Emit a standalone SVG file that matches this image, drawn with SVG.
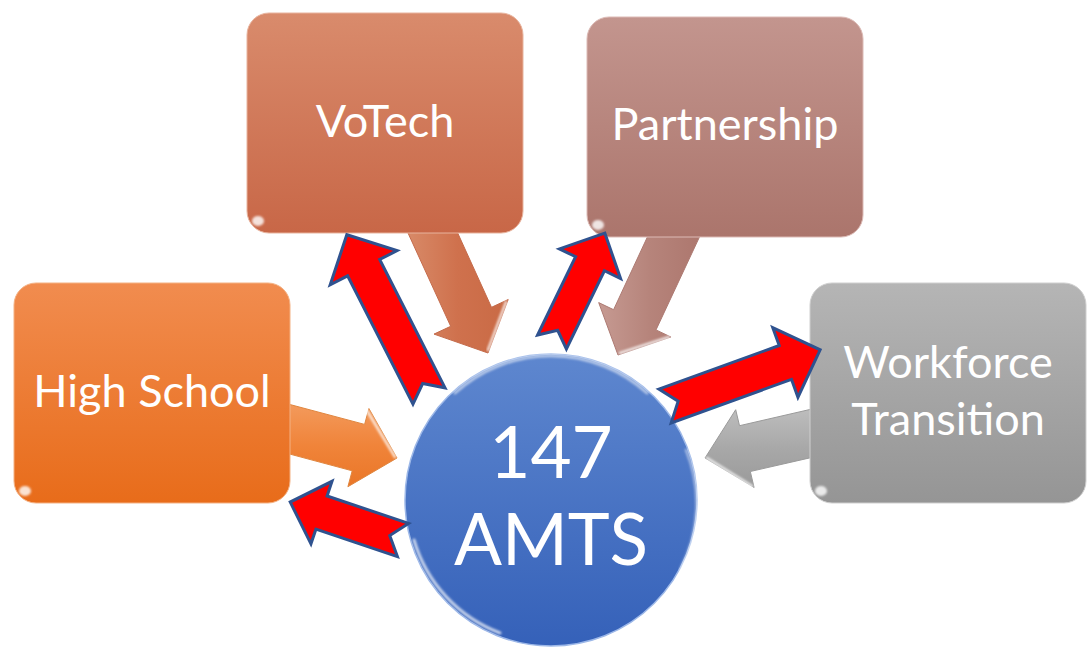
<svg xmlns="http://www.w3.org/2000/svg" width="1089" height="648" viewBox="0 0 1089 648">
<defs>
<style>
.lbl{font-family:Lato,"Open Sans","Liberation Sans",sans-serif;fill:#ffffff;text-anchor:middle;font-size:45px}
.big{font-size:71px}
.red{fill:#ff0000;stroke:#2f528f;stroke-width:3;stroke-linejoin:miter}
.hl{fill:none;stroke:#ffffff;stroke-linecap:round;filter:url(#soft)}
.box{stroke-width:1}
</style>
<filter id="soft" x="-10%" y="-50%" width="120%" height="200%"><feGaussianBlur stdDeviation="1.3"/></filter>
<linearGradient id="gHS" x1="0" y1="0" x2="0" y2="1"><stop offset="0" stop-color="#f18c4f"/><stop offset="1" stop-color="#e86c1a"/></linearGradient>
<linearGradient id="gVT" x1="0" y1="0" x2="0" y2="1"><stop offset="0" stop-color="#d98b6c"/><stop offset="1" stop-color="#c86747"/></linearGradient>
<linearGradient id="gPT" x1="0" y1="0" x2="0" y2="1"><stop offset="0" stop-color="#c3958e"/><stop offset="1" stop-color="#ab756c"/></linearGradient>
<linearGradient id="gWF" x1="0" y1="0" x2="0" y2="1"><stop offset="0" stop-color="#b5b5b5"/><stop offset="1" stop-color="#959595"/></linearGradient>
<linearGradient id="gC" x1="0" y1="0" x2="0" y2="1"><stop offset="0" stop-color="#5e87cf"/><stop offset="1" stop-color="#3561b9"/></linearGradient>
<linearGradient id="aHS" x1="0" y1="0" x2="0" y2="1"><stop offset="0" stop-color="#f39a5c"/><stop offset="0.5" stop-color="#f0843a"/><stop offset="1" stop-color="#ea7627"/></linearGradient>
<linearGradient id="aVT" x1="0" y1="0" x2="1" y2="0"><stop offset="0" stop-color="#d88a68"/><stop offset="0.5" stop-color="#cf714d"/><stop offset="1" stop-color="#c96a45"/></linearGradient>
<linearGradient id="aPT" x1="0" y1="0" x2="1" y2="0"><stop offset="0" stop-color="#c69a92"/><stop offset="0.5" stop-color="#b6847b"/><stop offset="1" stop-color="#ad776e"/></linearGradient>
<linearGradient id="aWF" x1="0" y1="0" x2="0" y2="1"><stop offset="0" stop-color="#bdbdbd"/><stop offset="0.5" stop-color="#a8a8a8"/><stop offset="1" stop-color="#9a9a9a"/></linearGradient>
</defs>
<rect width="1089" height="648" fill="#ffffff"/>

<g id="connectors">
  <polygon points="288,404 364.6,424.4 368.9,408.5 397,458 347.9,486.7 352.2,470.8 288,453.6" fill="url(#aHS)" stroke="#e0863f" stroke-width="1"/>
  <polyline points="366,409 395,457" class="hl" stroke-width="2.5" stroke-opacity="0.8"/>
  <polygon points="407.1,231 456.8,231 491.5,307.3 508.2,299.5 488,353 434,334.1 450.7,326.3" fill="url(#aVT)" stroke="#c46b4b" stroke-width="1"/>
  <polyline points="506,302 488,350" class="hl" stroke-width="2.5" stroke-opacity="0.8"/>
  <polygon points="648.3,235 700.4,235 656.0,329.9 670.9,337.0 618,355 598.7,302.6 613.6,309.7" fill="url(#aPT)" stroke="#ad7a72" stroke-width="1"/>
  <polyline points="669,337 620,353" class="hl" stroke-width="2.5" stroke-opacity="0.8"/>
  <polygon points="812,409 739.5,425.7 735.7,409.7 705,458 754.1,487.5 750.3,471.5 812,457.4" fill="url(#aWF)" stroke="#9a9a9a" stroke-width="1"/>
  <polyline points="707,458 752,486" class="hl" stroke-width="2.5" stroke-opacity="0.8"/>
</g>

<g id="node-highschool">
  <rect class="box" x="14" y="283" width="276" height="220" rx="22" fill="url(#gHS)" stroke="#f4b183"/>
  <line x1="34" y1="291" x2="270" y2="291" class="hl" stroke-width="4" stroke-opacity="0.7"/>
  <line x1="285" y1="303" x2="285" y2="480" class="hl" stroke-width="3" stroke-opacity="0.6"/>
  <ellipse cx="25" cy="491" rx="6" ry="5" fill="#ffffff" fill-opacity="0.8" filter="url(#soft)"/>
  <text class="lbl" x="152" y="407">High School</text>
</g>

<g id="node-votech">
  <rect class="box" x="247" y="13" width="276" height="220" rx="22" fill="url(#gVT)" stroke="#e8b39d"/>
  <line x1="267" y1="21" x2="503" y2="21" class="hl" stroke-width="4" stroke-opacity="0.7"/>
  <line x1="518" y1="33" x2="518" y2="210" class="hl" stroke-width="3" stroke-opacity="0.6"/>
  <ellipse cx="258" cy="221" rx="6" ry="5" fill="#ffffff" fill-opacity="0.8" filter="url(#soft)"/>
  <text class="lbl" x="385" y="137">VoTech</text>
</g>

<g id="node-partnership">
  <rect class="box" x="587" y="17" width="276" height="220" rx="22" fill="url(#gPT)" stroke="#dcbab5"/>
  <line x1="607" y1="25" x2="843" y2="25" class="hl" stroke-width="4" stroke-opacity="0.7"/>
  <line x1="858" y1="37" x2="858" y2="214" class="hl" stroke-width="3" stroke-opacity="0.6"/>
  <ellipse cx="598" cy="225" rx="6" ry="5" fill="#ffffff" fill-opacity="0.8" filter="url(#soft)"/>
  <text class="lbl" x="725" y="140">Partnership</text>
</g>

<g id="node-workforce">
  <rect class="box" x="810" y="283" width="276" height="220" rx="22" fill="url(#gWF)" stroke="#cfcfcf"/>
  <line x1="830" y1="291" x2="1066" y2="291" class="hl" stroke-width="4" stroke-opacity="0.7"/>
  <line x1="1081" y1="303" x2="1081" y2="480" class="hl" stroke-width="3" stroke-opacity="0.6"/>
  <ellipse cx="821" cy="491" rx="6" ry="5" fill="#ffffff" fill-opacity="0.8" filter="url(#soft)"/>
  <text class="lbl" x="948" y="378">Workforce</text>
  <text class="lbl" x="948" y="435">Transition</text>
</g>

<g id="node-amts">
  <circle cx="551" cy="500" r="146" fill="url(#gC)" stroke="#9db8e8" stroke-width="1.5"/>
  <path d="M 455 393 A 142 142 0 0 1 647 393" class="hl" stroke-width="3" stroke-opacity="0.55"/>
  <path d="M 414 540 A 142 142 0 0 0 500 633" class="hl" stroke-width="3" stroke-opacity="0.7"/>
  <path d="M 686 450 A 142 142 0 0 1 680 570" class="hl" stroke-width="2.5" stroke-opacity="0.5"/>
  <text class="lbl big" x="551" y="478">147</text>
  <text class="lbl big" x="551" y="565">AMTS</text>
</g>

<g id="connectors-out">
  <polygon class="red" transform="translate(429,396) rotate(-117)" points="0,-18 144,-18 144,-37.5 181,0 144,37.5 144,18 0,18 14,0"/>
  <polygon class="red" transform="translate(552,342) rotate(-64.1)" points="0,-16 87,-16 87,-34 121,0 87,34 87,16 0,16 13,0"/>
  <polygon class="red" transform="translate(665,406) rotate(-19.9)" points="0,-18 128,-18 128,-37 165,0 128,37 128,18 0,18 14,0"/>
  <polygon class="red" transform="translate(403,540) rotate(-161.4)" points="0,-17.5 86,-17.5 86,-33 119,0 86,33 86,17.5 0,17.5 14,0"/>
</g>
</svg>
